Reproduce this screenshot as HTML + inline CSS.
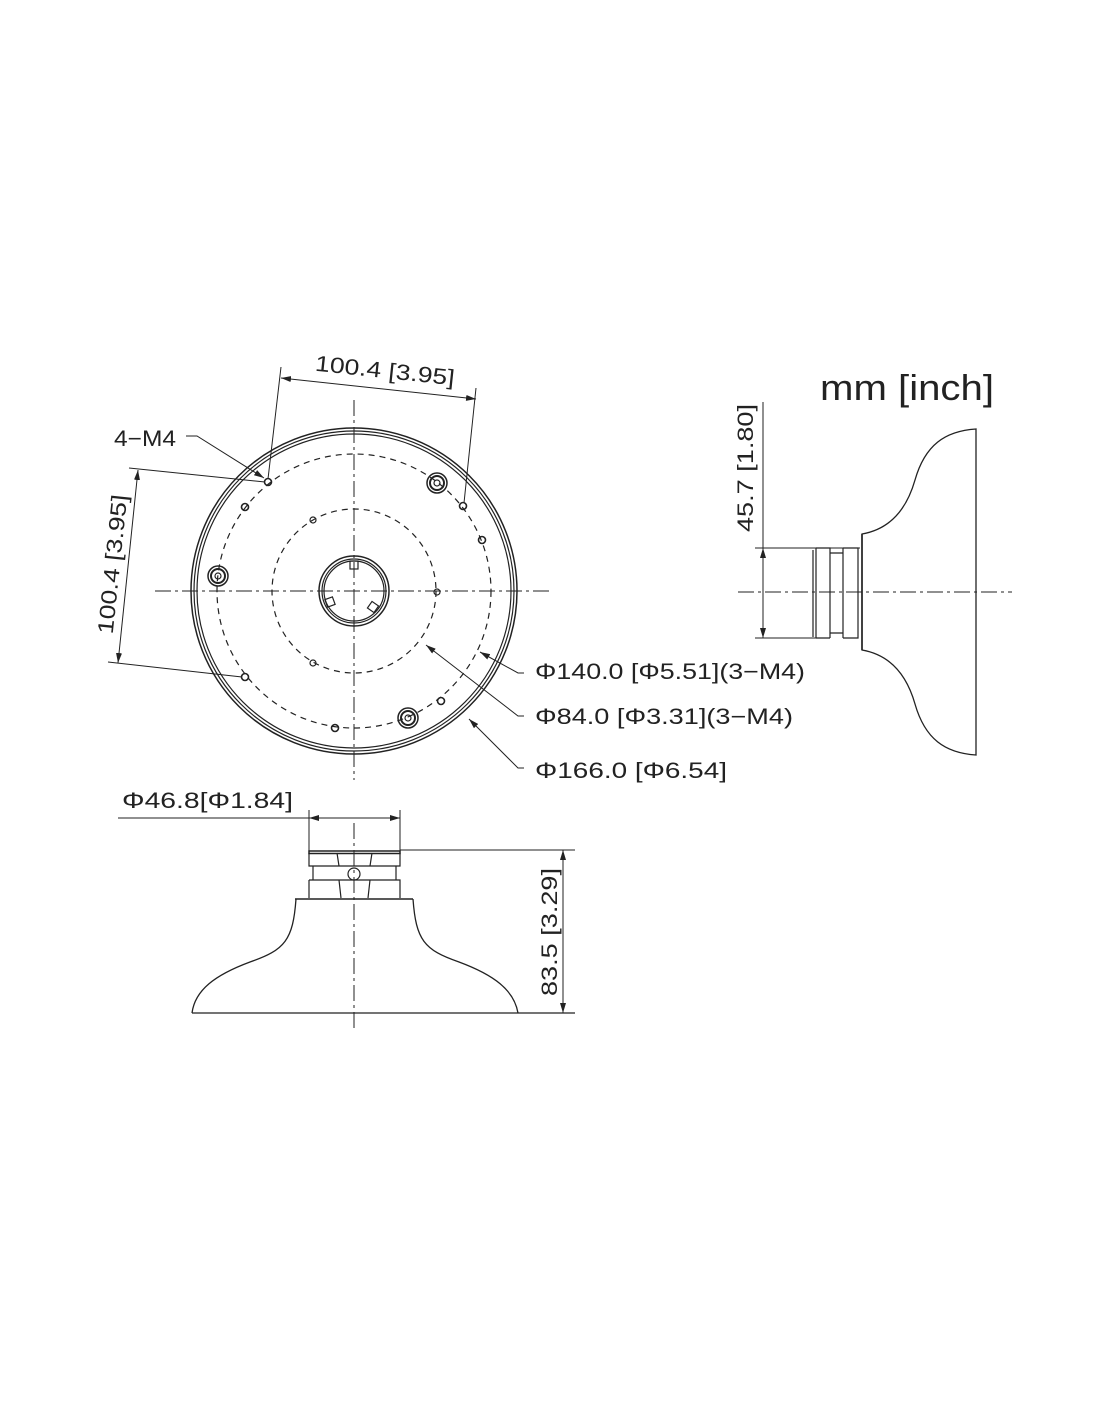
<!DOCTYPE html>
<html><head><meta charset="utf-8"><style>
html,body{margin:0;padding:0;background:#fff;}
svg{display:block;}
text{font-family:"Liberation Sans",sans-serif;fill:#222;}
</style></head><body>
<svg width="1100" height="1422" viewBox="0 0 1100 1422" xmlns="http://www.w3.org/2000/svg">
<defs>
<marker id="a" viewBox="0 0 10 6" refX="10" refY="3" markerWidth="10" markerHeight="6" orient="auto-start-reverse" markerUnits="userSpaceOnUse"><path d="M0,0 L10,3 L0,6z" fill="#222"/></marker>
</defs>
<g stroke="#222" fill="none" stroke-width="1.2">
<!-- TOP VIEW -->
<line x1="354" y1="400" x2="354" y2="780" stroke-dasharray="16,4,3,4" stroke-width="1"/>
<line x1="155" y1="591" x2="550" y2="591" stroke-dasharray="16,4,3,4" stroke-width="1"/>
<circle cx="354" cy="591" r="163" stroke-width="1.5"/>
<circle cx="354" cy="591" r="160"/>
<circle cx="354" cy="591" r="157"/>
<circle cx="354" cy="591" r="137" stroke-dasharray="6,5"/>
<circle cx="354" cy="591" r="82" stroke-dasharray="6,5"/>
<circle cx="354" cy="591" r="35" stroke-width="1.5"/>
<circle cx="354" cy="591" r="32"/>
<circle cx="354" cy="591" r="30"/>
<rect x="350" y="561" width="8" height="8"/>
<rect x="326" y="598" width="8" height="8" transform="rotate(-20 330 602)"/>
<rect x="369" y="603" width="8" height="8" transform="rotate(35 373 607)"/>
<g stroke-width="1.6">
<circle cx="268" cy="482" r="3.5"/><circle cx="245" cy="507" r="3.5"/>
<circle cx="463" cy="506" r="3.5"/><circle cx="482" cy="540" r="3.5"/>
<circle cx="245" cy="677" r="3.5"/><circle cx="335" cy="728" r="3.5"/>
<circle cx="441" cy="701" r="3.5"/>
</g>
<circle cx="313" cy="520" r="3"/><circle cx="437" cy="592" r="3"/><circle cx="313" cy="663" r="3"/>
<g>
<circle cx="437" cy="483" r="10" stroke-width="1.5"/><circle cx="437" cy="483" r="7" stroke-width="2"/><circle cx="437" cy="483" r="3"/>
<circle cx="218" cy="576" r="10" stroke-width="1.5"/><circle cx="218" cy="576" r="7" stroke-width="2"/><circle cx="218" cy="576" r="3"/>
<circle cx="408" cy="718" r="10" stroke-width="1.5"/><circle cx="408" cy="718" r="7" stroke-width="2"/><circle cx="408" cy="718" r="3"/>
</g>
<line x1="281" y1="367" x2="268" y2="479" stroke-width="1"/>
<line x1="476" y1="388" x2="464" y2="503" stroke-width="1"/>
<line x1="281" y1="378" x2="476" y2="399" stroke-width="1" marker-start="url(#a)" marker-end="url(#a)"/>
<line x1="129" y1="468" x2="265" y2="482" stroke-width="1"/>
<line x1="108" y1="662" x2="242" y2="677" stroke-width="1"/>
<line x1="138" y1="470" x2="118" y2="663" stroke-width="1" marker-start="url(#a)" marker-end="url(#a)"/>
<polyline points="186,436 197,436 264,478" stroke-width="1" marker-end="url(#a)"/>
<polyline points="524,673 518,673 480,652" stroke-width="1" marker-end="url(#a)"/>
<polyline points="524,716 518,716 426,645" stroke-width="1" marker-end="url(#a)"/>
<polyline points="524,768 518,768 469,719" stroke-width="1" marker-end="url(#a)"/>
<!-- SIDE VIEW -->
<line x1="738" y1="592" x2="1012" y2="592" stroke-dasharray="16,4,3,4" stroke-width="1"/>
<path d="M862,534 C885,530 905,515 915,480 C925,445 945,431 976,429 L976,755 C945,753 925,739 915,704 C905,669 885,654 862,650 Z" stroke-width="1.3"/>
<line x1="862" y1="534" x2="862" y2="650" stroke-width="1.6"/>
<path d="M813,550 L813,637 M816,548 L816,638 M816,548 L830,548 L830,638 M830,553 L843,553 M830,633 L843,633 M843,548 L843,638 M843,548 L858,548 L858,638 L843,638 M816,638 L830,638"/>
<line x1="755" y1="548" x2="860" y2="548" stroke-width="1"/>
<line x1="755" y1="638" x2="830" y2="638" stroke-width="1"/>
<line x1="763" y1="402" x2="763" y2="548" stroke-width="1"/>
<line x1="763" y1="548" x2="763" y2="638" stroke-width="1" marker-start="url(#a)" marker-end="url(#a)"/>
<!-- BOTTOM VIEW -->
<line x1="354" y1="823" x2="354" y2="1032" stroke-dasharray="16,4,3,4" stroke-width="1"/>
<line x1="192" y1="1013" x2="575" y2="1013" stroke-width="1.2"/>
<path d="M296,899 C293,940 285,950 250,962 C215,975 195,990 192,1013" stroke-width="1.3"/>
<path d="M413,899 C416,940 424,950 459,962 C494,975 514,990 518,1013" stroke-width="1.3"/>
<line x1="295" y1="899" x2="413" y2="899" stroke-width="1.6"/>
<rect x="309" y="851" width="91" height="2.5" stroke-width="1.5"/>
<path d="M309,853 L309,866 L400,866 L400,853 M313,866 L313,880 M396,866 L396,880 M309,880 L400,880 L400,898 M309,880 L309,898 M337,853 L339,866 M372,853 L370,866 M339,880 L341,898 M370,880 L368,898"/>
<circle cx="354" cy="874" r="6"/>
<line x1="309" y1="810" x2="309" y2="851" stroke-width="1"/>
<line x1="400" y1="810" x2="400" y2="851" stroke-width="1"/>
<line x1="118" y1="818" x2="309" y2="818" stroke-width="1"/>
<line x1="309" y1="818" x2="400" y2="818" stroke-width="1" marker-start="url(#a)" marker-end="url(#a)"/>
<line x1="400" y1="850" x2="575" y2="850" stroke-width="1"/>
<line x1="563" y1="850" x2="563" y2="1013" stroke-width="1" marker-start="url(#a)" marker-end="url(#a)"/>
</g>
<g font-size="22">
<text x="385" y="378" text-anchor="middle" transform="rotate(6 385 370)" textLength="140" lengthAdjust="spacingAndGlyphs">100.4 [3.95]</text>
<text x="0" y="0" text-anchor="middle" transform="translate(120 565) rotate(-84)" textLength="140" lengthAdjust="spacingAndGlyphs">100.4 [3.95]</text>
<text x="114" y="446" textLength="62" lengthAdjust="spacingAndGlyphs">4−M4</text>
<text x="535" y="679" textLength="270" lengthAdjust="spacingAndGlyphs">Φ140.0 [Φ5.51](3−M4)</text>
<text x="535" y="724" textLength="258" lengthAdjust="spacingAndGlyphs">Φ84.0 [Φ3.31](3−M4)</text>
<text x="535" y="778" textLength="192" lengthAdjust="spacingAndGlyphs">Φ166.0 [Φ6.54]</text>
<text x="122" y="808" textLength="171" lengthAdjust="spacingAndGlyphs">Φ46.8[Φ1.84]</text>
<text x="0" y="0" text-anchor="middle" transform="translate(753 468) rotate(-90)" textLength="128" lengthAdjust="spacingAndGlyphs">45.7 [1.80]</text>
<text x="0" y="0" text-anchor="middle" transform="translate(557 932) rotate(-90)" textLength="128" lengthAdjust="spacingAndGlyphs">83.5 [3.29]</text>
</g>
<text x="820" y="400" font-size="36" textLength="174" lengthAdjust="spacingAndGlyphs">mm [inch]</text>
</svg>
</body></html>
